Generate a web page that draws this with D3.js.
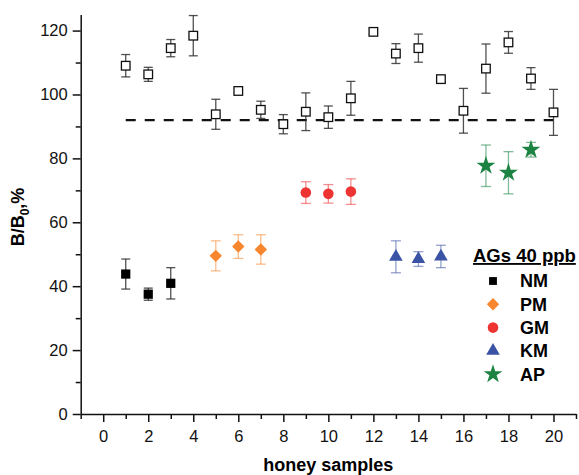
<!DOCTYPE html>
<html lang="en">
<head>
  <meta charset="UTF-8">
  <title>B/B0 of honey samples</title>
  <script src="https://d3js.org/d3.v7.min.js"></script>
  <style>
    body { margin: 0; background: white; }
    svg { display: block; font-family: "Liberation Sans", Arial, sans-serif; }
    .axis text { font-size: 16.5px; fill: #111; }
    .axis line, .axis path { stroke: #111; stroke-width: 1.5px; }
  </style>
</head>
<body>
<svg width="579" height="475"></svg>
<script>
  // blank honey samples (open squares)
  const blankSamples = d3.range(1, 21);
  const blankValues = [109.0, 106.3, 114.5, 118.4, 93.8, 101.1, 95.2, 90.7, 94.6, 92.9,
                       98.8, 119.6, 112.8, 114.5, 104.8, 94.9, 108.1, 116.3, 105.0, 94.4];
  const blankErrors = [3.5, 2.2, 2.7, 6.3, 4.7, 0.8, 2.7, 3.0, 5.9, 3.5,
                       5.3, 0.7, 3.1, 4.4, 0.8, 7.0, 7.7, 3.4, 3.4, 7.2];
  const cutoff = 92;

  // spiked samples, AGs 40 ppb
  const groupNames = ["NM", "PM", "GM", "KM", "AP"];
  const groupColors = ["#000000", "#f7862f", "#ee3333", "#3a53a4", "#1c8343"];
  const groupSamples = [[1, 2, 3], [5, 6, 7], [9, 10, 11], [13, 14, 15], [17, 18, 19]];
  const groupValues = [[43.8, 37.5, 40.9], [49.5, 52.4, 51.5], [69.3, 68.9, 69.6], [49.2, 48.5, 49.3], [77.7, 75.5, 82.7]];
  const groupErrors = [[4.7, 1.9, 4.9], [4.7, 3.7, 4.6], [3.4, 2.9, 4.0], [5.0, 2.3, 3.5], [6.5, 6.6, 2.3]];

  const xTicks = d3.range(0, 21, 2);
  const yTicks = d3.range(0, 121, 20);

  const svg = d3.select("svg");
  const x = d3.scaleLinear().domain([-1, 21]).range([80.7, 576]);
  const y = d3.scaleLinear().domain([0, 125]).range([414, 14.6]);

  // axes: minor ticks first, then major with labels
  svg.append("g").attr("class", "axis")
    .attr("transform", "translate(0,414)")
    .call(d3.axisBottom(x).tickValues(d3.range(-1, 22, 2)).tickSize(5).tickSizeOuter(0).tickFormat(""));
  svg.append("g").attr("class", "axis")
    .attr("transform", "translate(0,414)")
    .call(d3.axisBottom(x).tickValues(xTicks).tickSize(8).tickSizeOuter(0).tickPadding(8))
    .call(g => g.select(".domain").remove());
  svg.append("g").attr("class", "axis")
    .attr("transform", "translate(80.7,0)")
    .call(d3.axisLeft(y).tickValues(d3.range(10, 121, 20)).tickSize(5).tickSizeOuter(0).tickFormat(""));
  svg.append("g").attr("class", "axis")
    .attr("transform", "translate(80.7,0)")
    .call(d3.axisLeft(y).tickValues(yTicks).tickSize(8).tickSizeOuter(0).tickPadding(5))
    .call(g => g.select(".domain").remove());

  // axis titles
  svg.append("text")
    .attr("x", x(10)).attr("y", 471)
    .attr("text-anchor", "middle")
    .style("font-size", "18px").style("font-weight", "bold")
    .text("honey samples");
  const yl = svg.append("text")
    .attr("transform", "translate(24,217) rotate(-90)")
    .attr("text-anchor", "middle")
    .style("font-size", "18px").style("font-weight", "bold");
  yl.append("tspan").text("B/B");
  yl.append("tspan").attr("dy", 5).style("font-size", "12px").text("0");
  yl.append("tspan").attr("dy", -5).text(",%");

  // cut-off dashed line
  svg.append("line")
    .attr("x1", x(1)).attr("x2", x(20))
    .attr("y1", y(cutoff)).attr("y2", y(cutoff))
    .attr("stroke", "#111").attr("stroke-width", 2.2)
    .attr("stroke-dasharray", "10,9");

  function errorBars(g, xs, vs, es, color, opacity, cap) {
    xs.forEach((s, i) => {
      const e = g.append("g").attr("stroke", color).attr("stroke-opacity", opacity).attr("stroke-width", 1.3);
      e.append("line").attr("x1", x(s)).attr("x2", x(s)).attr("y1", y(vs[i] - es[i])).attr("y2", y(vs[i] + es[i]));
      e.append("line").attr("x1", x(s) - cap).attr("x2", x(s) + cap).attr("y1", y(vs[i] + es[i])).attr("y2", y(vs[i] + es[i]));
      e.append("line").attr("x1", x(s) - cap).attr("x2", x(s) + cap).attr("y1", y(vs[i] - es[i])).attr("y2", y(vs[i] - es[i]));
    });
  }

  const markerPath = [
    d3.symbol().type(d3.symbolSquare).size(85)(),
    "M0,-6.2L6.2,0L0,6.2L-6.2,0Z",
    d3.symbol().type(d3.symbolCircle).size(88)(),
    d3.symbol().type(d3.symbolTriangle).size(80)(),
    d3.symbol().type(d3.symbolStar).size(110)()
  ];

  // blank samples
  const blank = svg.append("g");
  errorBars(blank, blankSamples, blankValues, blankErrors, "#333", 0.85, 4.5);
  blank.selectAll("rect").data(blankSamples).join("rect")
    .attr("x", d => x(d) - 4.3).attr("y", (d, i) => y(blankValues[i]) - 4.3)
    .attr("width", 8.6).attr("height", 8.6)
    .attr("fill", "white").attr("stroke", "#111").attr("stroke-width", 1.3);

  // spiked samples
  groupNames.forEach((name, k) => {
    const g = svg.append("g");
    errorBars(g, groupSamples[k], groupValues[k], groupErrors[k], k === 0 ? "#333" : groupColors[k], k === 0 ? 0.85 : 0.55, k === 0 ? 4.5 : 5);
    g.selectAll("path.pt").data(groupSamples[k]).join("path")
      .attr("class", "pt")
      .attr("d", markerPath[k])
      .attr("transform", (d, i) => `translate(${x(d)},${y(groupValues[k][i])})`)
      .attr("fill", groupColors[k]);
  });

  // legend
  const legend = svg.append("g");
  legend.append("text")
    .attr("x", 473).attr("y", 262)
    .style("font-size", "18.5px").style("font-weight", "bold")
    .style("text-decoration", "underline")
    .text("AGs 40 ppb");
  groupNames.forEach((name, k) => {
    const row = legend.append("g").attr("transform", `translate(493,${281 + k * 23.3})`);
    row.append("path").attr("d", markerPath[k]).attr("fill", groupColors[k])
      .attr("transform", k === 0 ? "scale(0.85)" : null);
    row.append("text")
      .attr("x", 27).attr("y", 0).attr("dy", "0.36em")
      .style("font-size", "18px").style("font-weight", "bold")
      .text(name);
  });
</script>
</body>
</html>
